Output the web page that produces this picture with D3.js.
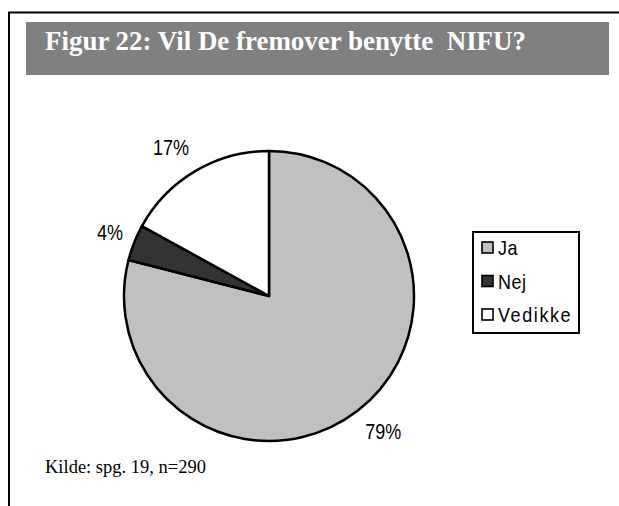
<!DOCTYPE html>
<html>
<head>
<meta charset="utf-8">
<script src="https://cdn.jsdelivr.net/npm/d3@7"></script>
<style>
  html, body { margin: 0; padding: 0; background: #fff; }
  svg { display: block; }
</style>
</head>
<body>
<script>
const categories = ['Ja', 'Nej', 'Vedikke']
const values = [79, 4, 17]
const pctLabels = ['79%', '4%', '17%']
const colors = ['#c0c0c0', '#333333', '#ffffff']
const title = 'Figur 22: Vil De fremover benytte  NIFU?'
const source = 'Kilde: spg. 19, n=290'

const WIDTH = 619
const HEIGHT = 506
const CX = 269
const CY = 296
const RADIUS = 145

const svg = d3.select('body').append('svg')
  .attr('width', WIDTH)
  .attr('height', HEIGHT)

// frame (only top and left edges are visible)
svg.append('path')
  .attr('d', `M9,${HEIGHT} L9,12.5 L${WIDTH},12.5`)
  .attr('fill', 'none')
  .attr('stroke', '#000')
  .attr('stroke-width', 2)

// title banner
svg.append('rect')
  .attr('x', 26).attr('y', 22)
  .attr('width', 583).attr('height', 53)
  .attr('fill', '#808080')

const stretched = (x, y, sy) => `translate(${x},${y}) scale(1,${sy})`

svg.append('text')
  .attr('x', 45).attr('y', 50)
  .style('white-space', 'pre')
  .attr('font-family', '"Liberation Serif", "Times New Roman", serif')
  .attr('font-weight', 'bold')
  .attr('font-size', 26.8)
  .attr('fill', '#fff')
  .attr('textLength', 481)
  .attr('lengthAdjust', 'spacingAndGlyphs')
  .text(title)

// pie
const pie = d3.pie().sort(null).value(d => d)
const arcs = pie(values)
const arc = d3.arc().innerRadius(0).outerRadius(RADIUS)
const color = d3.scaleOrdinal().domain(categories).range(colors)

const g = svg.append('g').attr('transform', `translate(${CX},${CY})`)

g.selectAll('path')
  .data(arcs)
  .enter()
  .append('path')
  .attr('d', arc)
  .attr('fill', (d, i) => color(categories[i]))
  .attr('stroke', '#000')
  .attr('stroke-width', 2.5)
  .attr('stroke-linejoin', 'round')

// percent labels, placed just outside the rim
const LABEL_RX = 157
const LABEL_RY = 165
const CAP = 14
g.selectAll('text.pct')
  .data(arcs)
  .enter()
  .append('text')
  .attr('class', 'pct')
  .attr('transform', d => {
    const a = (d.startAngle + d.endAngle) / 2
    const x = Math.sin(a) * LABEL_RX
    const y = -Math.cos(a) * LABEL_RY + CAP * (1 - Math.cos(a)) / 2
    return stretched(x, y, 1.2)
  })
  .attr('text-anchor', d => {
    const s = Math.sin((d.startAngle + d.endAngle) / 2)
    return s < -0.3 ? 'end' : s > 0.3 ? 'start' : 'middle'
  })
  .attr('font-family', '"Liberation Sans", Arial, sans-serif')
  .attr('font-size', 18)
  .attr('fill', '#000')
  .text((d, i) => pctLabels[i])

// legend
const legend = svg.append('g').attr('transform', 'translate(473,232)')
legend.append('rect')
  .attr('width', 106).attr('height', 101)
  .attr('fill', '#fff')
  .attr('stroke', '#000')
  .attr('stroke-width', 2)

const ly = d3.scalePoint().domain(categories).range([16, 83])

const items = legend.selectAll('g.item')
  .data(categories)
  .enter()
  .append('g')
  .attr('class', 'item')
  .attr('transform', d => `translate(0,${ly(d)})`)

items.append('rect')
  .attr('x', 9).attr('y', -6)
  .attr('width', 11).attr('height', 11)
  .attr('fill', d => color(d))
  .attr('stroke', '#000')
  .attr('stroke-width', 1.6)

items.append('text')
  .attr('transform', stretched(25, 7, 1.15))
  .attr('font-family', '"Liberation Sans", Arial, sans-serif')
  .attr('font-size', 18)
  .attr('letter-spacing', d => d === 'Vedikke' ? 1.6 : 0.5)
  .attr('fill', '#000')
  .text(d => d)

// source note
svg.append('text')
  .attr('x', 45).attr('y', 473)
  .attr('font-family', '"Liberation Serif", "Times New Roman", serif')
  .attr('font-size', 18.5)
  .attr('fill', '#000')
  .text(source)
</script>
</body>
</html>
